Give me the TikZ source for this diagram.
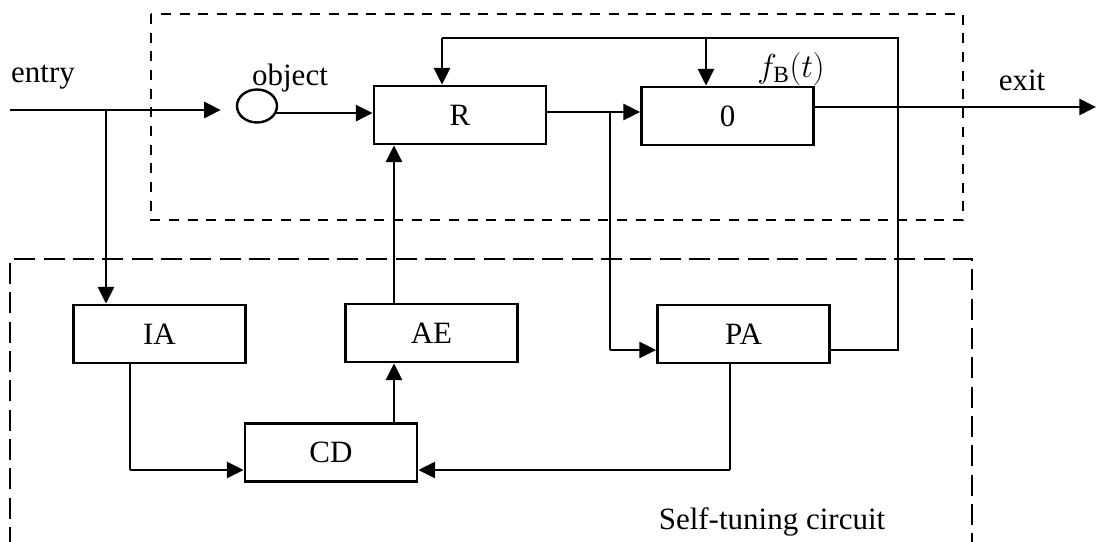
\documentclass[tikz,border=0pt]{standalone}
\usepackage{fontspec}
\setmainfont{Liberation Serif}
\usetikzlibrary{arrows.meta,shapes.geometric}
\tikzset{
  blk/.style={draw, line width=2.1pt, minimum width=129pt, minimum height=43.5pt, inner sep=0pt},
  arr/.style={line width=1.9pt, -{Triangle[length=12.5pt,width=12pt]}},
  thk/.style={line width=1.9pt},
  thn/.style={line width=1.2pt},
  frameA/.style={line width=1.8pt, dash pattern=on 7.5pt off 6.5pt},
  frameB/.style={line width=1.8pt, dash pattern=on 15.75pt off 6.25pt},
  lbl/.style={inner sep=0pt, anchor=base}
}
\begin{document}
\begin{tikzpicture}[x=0.75pt, y=-0.75pt, every node/.style={font=\fontsize{23.25}{28}\selectfont}]
\useasboundingbox (0,0) rectangle (1096,542);
% frames
\draw[frameA] (151,14) rectangle (963,220);
\draw[frameB] (10,548) -- (10,259) -- (972,259) -- (972,548);
% blocks
\node[blk] (R)  at (460,115)   {R};
\node[blk] (O)  at (727.5,116) {0};
\node[blk] (IA) at (159.5,334) {IA};
\node[blk] (AE) at (431.5,333) {AE};
\node[blk] (PA) at (743.5,334) {PA};
\node[blk] (CD) at (331,452.5) {CD};
\node[draw, ellipse, line width=1.8pt, minimum width=30pt, minimum height=24.75pt, inner sep=0pt] (obj) at (257,106) {};
% labels
\node[lbl] (tEntry) at (43,83) {entry};
\node[lbl] (tObj) at (290,85) {object};
\node[lbl] (tExit) at (1022,90) {exit};
\node[inner sep=0pt, font=\fontsize{25}{30}\selectfont] (tF) at (791,69) {$f_{\mathrm{B}}(t)$};
\node[lbl] (tSelf) at (772,529) {Self-tuning circuit};
% coordinates
\coordinate (in) at (10,110);
\coordinate (eb) at (106,110);
\coordinate (j) at (610,112);
\coordinate (jb) at (610,350);
\coordinate (out) at (1096,107);
\coordinate (pa1) at (898,350);
\coordinate (fb) at (898,38);
\coordinate (fbR) at (442,38);
\coordinate (fbO) at (706,38);
\coordinate (ia1) at (130,470);
\coordinate (pa2) at (730,470);
\coordinate (v) at (394,0);
% main path
\draw[arr, shorten >=15pt*0.75] (in) -- (in -| obj.west);
\draw[arr] (obj.-20) -- (obj.-20 -| R.west);
\draw[thk] (R.east |- j) -- (j);
\draw[arr] (j) -- (j -| O.west);
\draw[arr] (out -| O.east) -- (out);
% feedback
\draw[thn] (pa1 -| PA.east) -- (pa1) -- (fb) -- (fbR);
\draw[arr] (fbR) -- (fbR |- R.north);
\draw[arr] (fbO) -- (fbO |- O.north);
% branch to PA
\draw[thn] (j) -- (jb);
\draw[arr] (jb) -- (jb -| PA.west);
% entry to IA
\draw[arr] (eb) -- (eb |- IA.north);
% IA to CD
\draw[thn] (ia1 |- IA.south) -- (ia1);
\draw[arr] (ia1) -- (ia1 -| CD.west);
% PA to CD
\draw[thn] (pa2 |- PA.south) -- (pa2);
\draw[arr] (pa2) -- (pa2 -| CD.east);
% CD to AE to R
\draw[arr] (CD.north -| v) -- (AE.south -| v);
\draw[arr] (AE.north -| v) -- (R.south -| v);
\end{tikzpicture}
\end{document}
